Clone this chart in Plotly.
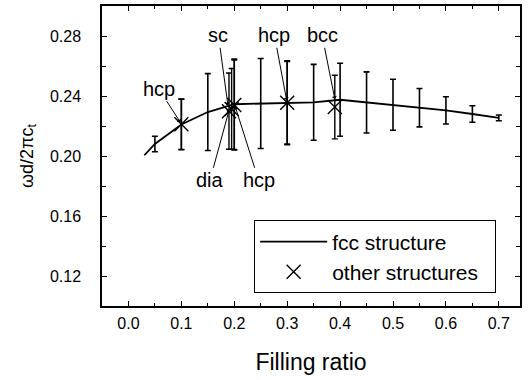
import plotly.graph_objects as go

# fcc structure curve
fcc_x = [0.03, 0.05, 0.10, 0.15, 0.20, 0.25, 0.30, 0.35, 0.40, 0.45, 0.50, 0.55, 0.60, 0.65, 0.70]
fcc_y = [0.2005, 0.2080, 0.2210, 0.2293, 0.2345, 0.2350, 0.2355, 0.2358, 0.2375, 0.2357, 0.2342, 0.2322, 0.2304, 0.2280, 0.2254]
# error bars (half widths) for fcc points from x=0.05 on
fcc_err = [0.0052, 0.0168, 0.0256, 0.0302, 0.0300, 0.0280, 0.0253, 0.0243, 0.0204, 0.0170, 0.0128, 0.0091, 0.0055, 0.0019]

# other structures
oth_names = ["hcp", "dia", "hcp", "sc", "hcp", "bcc"]
oth_x = [0.10, 0.19, 0.195, 0.20, 0.30, 0.39]
oth_y = [0.2212, 0.2299, 0.2314, 0.2340, 0.2355, 0.2326]
oth_err = [0.0168, 0.0254, 0.0269, 0.0300, 0.0275, 0.0212]

# labels: text, arrow head (x, y), text centre (x, y)
labels = [
    ("hcp", 0.098, 0.2225, 0.057, 0.2449),
    ("sc", 0.188, 0.2338, 0.170, 0.2805),
    ("hcp", 0.299, 0.2371, 0.276, 0.2805),
    ("bcc", 0.390, 0.2380, 0.366, 0.2805),
    ("dia", 0.191, 0.2316, 0.154, 0.1838),
    ("hcp", 0.202, 0.2327, 0.246, 0.1838),
]

FONT = "Arial, Liberation Sans, sans-serif"
NB = "\u00a0"

fig = go.Figure()
fig.add_trace(go.Scatter(
    x=fcc_x, y=fcc_y, mode="lines", name="fcc structure",
    line=dict(color="black", width=1.8), showlegend=True,
))
fig.add_trace(go.Scatter(
    x=fcc_x[1:], y=fcc_y[1:], mode="markers", showlegend=False,
    marker=dict(size=1, color="rgba(0,0,0,0)"),
    error_y=dict(type="data", array=fcc_err, visible=True, color="black", thickness=1.6, width=3),
))
fig.add_trace(go.Scatter(
    x=oth_x, y=oth_y, mode="markers", name="other structures" + NB * 2,
    marker=dict(symbol="x-thin", size=14, color="black", line=dict(color="black", width=1.4)),
    error_y=dict(type="data", array=oth_err, visible=True, color="black", thickness=1.4, width=3),
))

for txt, hx, hy, tx, ty in labels:
    fig.add_annotation(
        x=hx, y=hy, ax=tx, ay=ty, axref="x", ayref="y", xref="x", yref="y",
        text=txt, showarrow=True, arrowhead=1, arrowsize=0.9, arrowwidth=1,
        arrowcolor="black", standoff=0, startstandoff=0,
        font=dict(family=FONT, size=20, color="black"),
    )

axis_common = dict(
    showline=True, linecolor="black", linewidth=1.5, mirror="ticks",
    ticks="inside", tickcolor="black", tickwidth=1.3, ticklen=5,
    showgrid=False, zeroline=False,
    tickfont=dict(family=FONT, size=16, color="black"),
)

fig.update_xaxes(
    range=[-0.05, 0.74], tickmode="array",
    tickvals=[0.0, 0.1, 0.2, 0.3, 0.4, 0.5, 0.6, 0.7],
    ticktext=["0.0", "0.1", "0.2", "0.3", "0.4", "0.5", "0.6", "0.7"],
    minor=dict(ticks="inside", ticklen=3, tickcolor="black", tickwidth=1.3, dtick=0.05, tick0=0.0, showgrid=False),
    title=dict(text="Filling ratio", font=dict(family=FONT, size=23, color="black"), standoff=23),
    ticklabelstandoff=2,
    **axis_common,
)
fig.update_yaxes(
    range=[0.10, 0.30], tickmode="array",
    tickvals=[0.12, 0.16, 0.20, 0.24, 0.28],
    ticktext=["0.12", "0.16", "0.20", "0.24", "0.28"],
    minor=dict(ticks="inside", ticklen=4, tickcolor="black", tickwidth=1.3, dtick=0.02, tick0=0.10, showgrid=False),
    title=dict(text="ωd/2πc<sub>t</sub>", font=dict(family=FONT, size=18, color="black"), standoff=12),
    ticklabelstandoff=16,
    **axis_common,
)

fig.update_layout(
    width=531, height=380,
    margin=dict(l=102, r=11, t=6, b=74, autoexpand=False),
    plot_bgcolor="white", paper_bgcolor="white",
    showlegend=True,
    legend=dict(
        x=0.364, y=0.042, xanchor="left", yanchor="bottom",
        bordercolor="black", borderwidth=1, bgcolor="white",
        font=dict(family=FONT, size=21, color="black"),
        tracegroupgap=0, itemwidth=67,
    ),
)

fig.write_html(
    "out.html",
    config={"displayModeBar": False},
    post_script="document.body.style.margin='0';document.body.style.padding='0';",
)
